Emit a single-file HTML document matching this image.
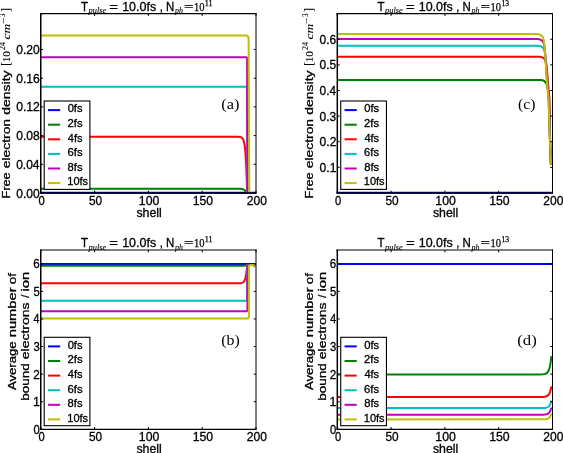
<!DOCTYPE html>
<html><head><meta charset="utf-8"><style>
html,body{margin:0;padding:0;background:#fff;}
body{width:563px;height:453px;overflow:hidden;font-family:"Liberation Sans",sans-serif;}
svg{display:block;will-change:transform;}
</style></head><body>
<svg width="563" height="453" viewBox="0 0 563 453">
<style>text.s{stroke:#000;stroke-width:0.3px;} text.r{stroke:#000;stroke-width:0.25px;} text.t{stroke:#000;stroke-width:0.1px;}</style>
<rect width="563" height="453" fill="#fff"/>
<path d="M40.75,192.75 L255.52,192.75" stroke="#0000ff" stroke-width="2.0" fill="none" stroke-linejoin="round"/>
<path d="M40.75,188.68 L238.1,188.72 L240.1,188.8 L241.6,188.96 L242.8,189.23 L243.8,189.63 L244.7,190.25 L245.4,191 L246,191.92 L246.6,193.2" stroke="#008000" stroke-width="2.0" fill="none" stroke-linejoin="round"/>
<path d="M40.75,136.72 L234,136.73 L238.4,136.79 L239.6,136.9 L240.5,137.08 L241.4,137.43 L242.1,137.93 L242.7,138.64 L243.3,139.76 L243.8,141.19 L244.2,142.79 L244.6,144.98 L245,147.95 L245.6,154.54 L246.2,164.99 L246.7,178.24 L247.1,193.2" stroke="#ff0000" stroke-width="2.0" fill="none" stroke-linejoin="round"/>
<path d="M40.75,86.71 H246 Q247,86.71 247,87.71 L247.3,192.7" stroke="#00bfbf" stroke-width="2.0" fill="none" stroke-linejoin="round"/>
<path d="M40.75,57.29 H246.1 Q247.1,57.29 247.1,58.29 L247.5,192.7" stroke="#bf00bf" stroke-width="2.0" fill="none" stroke-linejoin="round"/>
<path d="M40.75,35.62 H245.6 Q248.6,35.62 248.6,38.62 L249.3,192.7" stroke="#bfbf00" stroke-width="2.0" fill="none" stroke-linejoin="round"/>
<path d="M337.3,192.75 L551.42,192.75" stroke="#0000ff" stroke-width="2.0" fill="none" stroke-linejoin="round"/>
<path d="M337.3,80.02 H541.2 C544.92,80.02 547.63,84.82 548.28,92.02 L548.9,99 L550,140 L550.9,164.5" stroke="#008000" stroke-width="2.0" fill="none" stroke-linejoin="round"/>
<path d="M337.3,56.7 H539.86 C543.58,56.7 546.2,60.3 546.64,65.7 L547.8,80 L549.5,99 L550.15,140 L550.9,164.5" stroke="#ff0000" stroke-width="2.0" fill="none" stroke-linejoin="round"/>
<path d="M337.3,45.71 H537.9 C541.93,45.71 544.68,48.71 545.09,53.21 L545.52,57.8 L547,80 L548.7,99 L549.95,140 L550.9,164.5" stroke="#00bfbf" stroke-width="2.0" fill="none" stroke-linejoin="round"/>
<path d="M337.3,38.92 H537.29 C541.32,38.92 544.03,41.72 544.42,45.92 L545.52,57.8 L547,80 L548.7,99 L549.95,140 L550.9,164.5" stroke="#bf00bf" stroke-width="2.0" fill="none" stroke-linejoin="round"/>
<path d="M337.3,34.1 H536.62 C540.83,34.1 543.61,36.9 543.97,41.1 L545.4,57.8 L546.8,80 L548.5,99 L549.9,140 L550.9,164.5" stroke="#bfbf00" stroke-width="2.0" fill="none" stroke-linejoin="round"/>
<path d="M40.75,263.99 L255.7,263.99" stroke="#0000ff" stroke-width="2.0" fill="none" stroke-linejoin="round"/>
<path d="M40.75,265.65 L242.1,265.64 L245.8,265.52 L246.8,265.3 L247.5,264.96 L253.6,264.96 L254.9,266.57" stroke="#008000" stroke-width="2.0" fill="none" stroke-linejoin="round"/>
<path d="M40.75,283.3 L233.1,283.3 L237.8,283.28 L240,283.19 L241.8,282.91 L242.5,282.66 L243.1,282.32 L243.6,281.9 L244.1,281.3 L244.5,280.64 L244.9,279.75 L245.6,277.45 L246.2,274.32 L246.7,270.47 L247.2,264.96 L253.6,264.96 L254.9,266.57" stroke="#ff0000" stroke-width="2.0" fill="none" stroke-linejoin="round"/>
<path d="M40.75,300.68 H246 Q247,300.68 247,299.68 V266.76 Q247,264.96 248.8,264.96 H253.6 L254.92,266.6" stroke="#00bfbf" stroke-width="2.0" fill="none" stroke-linejoin="round"/>
<path d="M40.75,311.16 H246.4 Q247.4,311.16 247.4,310.16 V266.76 Q247.4,264.96 249.2,264.96 H253.6 L254.92,266.6" stroke="#bf00bf" stroke-width="2.0" fill="none" stroke-linejoin="round"/>
<path d="M40.75,318.61 H246.7 Q248.9,318.61 248.9,316.41 V266.76 Q248.9,264.96 250.7,264.96 H253.6 L254.92,266.6" stroke="#bfbf00" stroke-width="2.0" fill="none" stroke-linejoin="round"/>
<path d="M337.3,263.99 L552.2,263.99" stroke="#0000ff" stroke-width="2.0" fill="none" stroke-linejoin="round"/>
<path d="M337.3,374.5 L534.2,374.49 L540,374.46 L542.8,374.34 L544.8,374.03 L545.6,373.77 L546.4,373.36 L547,372.91 L547.6,372.29 L548.2,371.41 L548.6,370.64 L549.4,368.49 L550.2,365.12 L550.8,361.42 L551.4,356.24" stroke="#008000" stroke-width="2.0" fill="none" stroke-linejoin="round"/>
<path d="M337.3,397.01 L534.2,397 L542.8,396.92 L544.8,396.73 L546.4,396.34 L547.6,395.71 L548.6,394.76 L549.4,393.5 L550.2,391.53 L550.8,389.37 L551.4,386.35" stroke="#ff0000" stroke-width="2.0" fill="none" stroke-linejoin="round"/>
<path d="M337.3,408.09 L534.2,408.09 L542.8,408.03 L544.8,407.9 L546.4,407.63 L547.6,407.19 L548.6,406.51 L549.4,405.63 L550.2,404.24 L550.8,402.72 L551.4,400.59" stroke="#00bfbf" stroke-width="2.0" fill="none" stroke-linejoin="round"/>
<path d="M337.3,414.69 L534.2,414.69 L542.8,414.63 L544.8,414.51 L546.4,414.25 L547.6,413.83 L548.6,413.19 L549.4,412.35 L550.2,411.04 L550.8,409.6 L551.4,407.58" stroke="#bf00bf" stroke-width="2.0" fill="none" stroke-linejoin="round"/>
<path d="M337.3,419.4 L542.8,419.36 L544.8,419.26 L546.4,419.05 L547.6,418.71 L548.6,418.2 L549.4,417.52 L550.2,416.47 L550.8,415.3 L551.4,413.68" stroke="#bfbf00" stroke-width="2.0" fill="none" stroke-linejoin="round"/>
<path d="M40,13.6 H256.5" stroke="#000" stroke-width="1.1"/>
<path d="M40,193 H256.5" stroke="#000" stroke-width="1.3"/>
<path d="M40.75,13.1 V193.6" stroke="#000" stroke-width="1.5"/>
<path d="M256,13.1 V193.6" stroke="#000" stroke-width="1.0"/>
<path d="M336.55,13.6 H553" stroke="#000" stroke-width="1.1"/>
<path d="M336.55,193 H553" stroke="#000" stroke-width="1.3"/>
<path d="M337.3,13.1 V193.6" stroke="#000" stroke-width="1.5"/>
<path d="M552.5,13.1 V193.6" stroke="#000" stroke-width="1.0"/>
<path d="M40,250 H256.5" stroke="#000" stroke-width="1.1"/>
<path d="M40,429.3 H256.5" stroke="#000" stroke-width="1.3"/>
<path d="M40.75,249.5 V429.9" stroke="#000" stroke-width="1.5"/>
<path d="M256,249.5 V429.9" stroke="#000" stroke-width="1.0"/>
<path d="M336.55,250 H553" stroke="#000" stroke-width="1.1"/>
<path d="M336.55,429.3 H553" stroke="#000" stroke-width="1.3"/>
<path d="M337.3,249.5 V429.9" stroke="#000" stroke-width="1.5"/>
<path d="M552.5,249.5 V429.9" stroke="#000" stroke-width="1.0"/>
<path d="M40.75,193 v-2.3 M40.75,13.6 v2.3 M94.56,193 v-2.3 M94.56,13.6 v2.3 M148.38,193 v-2.3 M148.38,13.6 v2.3 M202.19,193 v-2.3 M202.19,13.6 v2.3 M256,193 v-2.3 M256,13.6 v2.3 M40.75,193 h2.4 M256,193 h-2.3 M40.75,164.3 h2.4 M256,164.3 h-2.3 M40.75,135.59 h2.4 M256,135.59 h-2.3 M40.75,106.89 h2.4 M256,106.89 h-2.3 M40.75,78.18 h2.4 M256,78.18 h-2.3 M40.75,49.48 h2.4 M256,49.48 h-2.3" stroke="#000" stroke-width="1" fill="none"/>
<path d="M337.3,193 v-2.3 M337.3,13.6 v2.3 M391.1,193 v-2.3 M391.1,13.6 v2.3 M444.9,193 v-2.3 M444.9,13.6 v2.3 M498.7,193 v-2.3 M498.7,13.6 v2.3 M552.5,193 v-2.3 M552.5,13.6 v2.3 M337.3,167.37 h2.4 M552.5,167.37 h-2.3 M337.3,141.74 h2.4 M552.5,141.74 h-2.3 M337.3,116.11 h2.4 M552.5,116.11 h-2.3 M337.3,90.49 h2.4 M552.5,90.49 h-2.3 M337.3,64.86 h2.4 M552.5,64.86 h-2.3 M337.3,39.23 h2.4 M552.5,39.23 h-2.3" stroke="#000" stroke-width="1" fill="none"/>
<path d="M40.75,429.3 v-2.3 M40.75,250 v2.3 M94.56,429.3 v-2.3 M94.56,250 v2.3 M148.38,429.3 v-2.3 M148.38,250 v2.3 M202.19,429.3 v-2.3 M202.19,250 v2.3 M256,429.3 v-2.3 M256,250 v2.3 M40.75,429.3 h2.4 M256,429.3 h-2.3 M40.75,401.72 h2.4 M256,401.72 h-2.3 M40.75,374.13 h2.4 M256,374.13 h-2.3 M40.75,346.55 h2.4 M256,346.55 h-2.3 M40.75,318.96 h2.4 M256,318.96 h-2.3 M40.75,291.38 h2.4 M256,291.38 h-2.3 M40.75,263.79 h2.4 M256,263.79 h-2.3" stroke="#000" stroke-width="1" fill="none"/>
<path d="M337.3,429.3 v-2.3 M337.3,250 v2.3 M391.1,429.3 v-2.3 M391.1,250 v2.3 M444.9,429.3 v-2.3 M444.9,250 v2.3 M498.7,429.3 v-2.3 M498.7,250 v2.3 M552.5,429.3 v-2.3 M552.5,250 v2.3 M337.3,429.3 h2.4 M552.5,429.3 h-2.3 M337.3,401.72 h2.4 M552.5,401.72 h-2.3 M337.3,374.13 h2.4 M552.5,374.13 h-2.3 M337.3,346.55 h2.4 M552.5,346.55 h-2.3 M337.3,318.96 h2.4 M552.5,318.96 h-2.3 M337.3,291.38 h2.4 M552.5,291.38 h-2.3 M337.3,263.79 h2.4 M552.5,263.79 h-2.3" stroke="#000" stroke-width="1" fill="none"/>
<rect x="44.2" y="101" width="45.7" height="88.4" fill="#fff" stroke="#000" stroke-width="1.1"/>
<path d="M48,110.1 h12.2" stroke="#0000ff" stroke-width="2.0"/>
<text class="s" x="67.65" y="112.4" font-size="10.9" font-family="Liberation Sans" text-anchor="start" textLength="14.93" lengthAdjust="spacingAndGlyphs" >0fs</text>
<path d="M48,124.7 h12.2" stroke="#008000" stroke-width="2.0"/>
<text class="s" x="67.54" y="127" font-size="10.9" font-family="Liberation Sans" text-anchor="start" textLength="15.05" lengthAdjust="spacingAndGlyphs" >2fs</text>
<path d="M48,139.3 h12.2" stroke="#ff0000" stroke-width="2.0"/>
<text class="s" x="67.85" y="141.6" font-size="10.9" font-family="Liberation Sans" text-anchor="start" textLength="14.72" lengthAdjust="spacingAndGlyphs" >4fs</text>
<path d="M48,153.9 h12.2" stroke="#00bfbf" stroke-width="2.0"/>
<text class="s" x="67.54" y="156.2" font-size="10.9" font-family="Liberation Sans" text-anchor="start" textLength="15.05" lengthAdjust="spacingAndGlyphs" >6fs</text>
<path d="M48,168.5 h12.2" stroke="#bf00bf" stroke-width="2.0"/>
<text class="s" x="67.62" y="170.8" font-size="10.9" font-family="Liberation Sans" text-anchor="start" textLength="14.96" lengthAdjust="spacingAndGlyphs" >8fs</text>
<path d="M48,183.1 h12.2" stroke="#bfbf00" stroke-width="2.0"/>
<text class="s" x="67.27" y="185.4" font-size="10.9" font-family="Liberation Sans" text-anchor="start" textLength="20.81" lengthAdjust="spacingAndGlyphs" >10fs</text>
<rect x="340.75" y="101" width="45.7" height="88.4" fill="#fff" stroke="#000" stroke-width="1.1"/>
<path d="M344.55,110.1 h12.2" stroke="#0000ff" stroke-width="2.0"/>
<text class="s" x="364.2" y="112.4" font-size="10.9" font-family="Liberation Sans" text-anchor="start" textLength="14.93" lengthAdjust="spacingAndGlyphs" >0fs</text>
<path d="M344.55,124.7 h12.2" stroke="#008000" stroke-width="2.0"/>
<text class="s" x="364.09" y="127" font-size="10.9" font-family="Liberation Sans" text-anchor="start" textLength="15.05" lengthAdjust="spacingAndGlyphs" >2fs</text>
<path d="M344.55,139.3 h12.2" stroke="#ff0000" stroke-width="2.0"/>
<text class="s" x="364.4" y="141.6" font-size="10.9" font-family="Liberation Sans" text-anchor="start" textLength="14.72" lengthAdjust="spacingAndGlyphs" >4fs</text>
<path d="M344.55,153.9 h12.2" stroke="#00bfbf" stroke-width="2.0"/>
<text class="s" x="364.09" y="156.2" font-size="10.9" font-family="Liberation Sans" text-anchor="start" textLength="15.05" lengthAdjust="spacingAndGlyphs" >6fs</text>
<path d="M344.55,168.5 h12.2" stroke="#bf00bf" stroke-width="2.0"/>
<text class="s" x="364.17" y="170.8" font-size="10.9" font-family="Liberation Sans" text-anchor="start" textLength="14.96" lengthAdjust="spacingAndGlyphs" >8fs</text>
<path d="M344.55,183.1 h12.2" stroke="#bfbf00" stroke-width="2.0"/>
<text class="s" x="363.82" y="185.4" font-size="10.9" font-family="Liberation Sans" text-anchor="start" textLength="20.81" lengthAdjust="spacingAndGlyphs" >10fs</text>
<rect x="44.2" y="337.3" width="45.7" height="88.4" fill="#fff" stroke="#000" stroke-width="1.1"/>
<path d="M48,346.4 h12.2" stroke="#0000ff" stroke-width="2.0"/>
<text class="s" x="67.65" y="348.7" font-size="10.9" font-family="Liberation Sans" text-anchor="start" textLength="14.93" lengthAdjust="spacingAndGlyphs" >0fs</text>
<path d="M48,361 h12.2" stroke="#008000" stroke-width="2.0"/>
<text class="s" x="67.54" y="363.3" font-size="10.9" font-family="Liberation Sans" text-anchor="start" textLength="15.05" lengthAdjust="spacingAndGlyphs" >2fs</text>
<path d="M48,375.6 h12.2" stroke="#ff0000" stroke-width="2.0"/>
<text class="s" x="67.85" y="377.9" font-size="10.9" font-family="Liberation Sans" text-anchor="start" textLength="14.72" lengthAdjust="spacingAndGlyphs" >4fs</text>
<path d="M48,390.2 h12.2" stroke="#00bfbf" stroke-width="2.0"/>
<text class="s" x="67.54" y="392.5" font-size="10.9" font-family="Liberation Sans" text-anchor="start" textLength="15.05" lengthAdjust="spacingAndGlyphs" >6fs</text>
<path d="M48,404.8 h12.2" stroke="#bf00bf" stroke-width="2.0"/>
<text class="s" x="67.62" y="407.1" font-size="10.9" font-family="Liberation Sans" text-anchor="start" textLength="14.96" lengthAdjust="spacingAndGlyphs" >8fs</text>
<path d="M48,419.4 h12.2" stroke="#bfbf00" stroke-width="2.0"/>
<text class="s" x="67.27" y="421.7" font-size="10.9" font-family="Liberation Sans" text-anchor="start" textLength="20.81" lengthAdjust="spacingAndGlyphs" >10fs</text>
<rect x="340.75" y="337.3" width="45.7" height="88.4" fill="#fff" stroke="#000" stroke-width="1.1"/>
<path d="M344.55,346.4 h12.2" stroke="#0000ff" stroke-width="2.0"/>
<text class="s" x="364.2" y="348.7" font-size="10.9" font-family="Liberation Sans" text-anchor="start" textLength="14.93" lengthAdjust="spacingAndGlyphs" >0fs</text>
<path d="M344.55,361 h12.2" stroke="#008000" stroke-width="2.0"/>
<text class="s" x="364.09" y="363.3" font-size="10.9" font-family="Liberation Sans" text-anchor="start" textLength="15.05" lengthAdjust="spacingAndGlyphs" >2fs</text>
<path d="M344.55,375.6 h12.2" stroke="#ff0000" stroke-width="2.0"/>
<text class="s" x="364.4" y="377.9" font-size="10.9" font-family="Liberation Sans" text-anchor="start" textLength="14.72" lengthAdjust="spacingAndGlyphs" >4fs</text>
<path d="M344.55,390.2 h12.2" stroke="#00bfbf" stroke-width="2.0"/>
<text class="s" x="364.09" y="392.5" font-size="10.9" font-family="Liberation Sans" text-anchor="start" textLength="15.05" lengthAdjust="spacingAndGlyphs" >6fs</text>
<path d="M344.55,404.8 h12.2" stroke="#bf00bf" stroke-width="2.0"/>
<text class="s" x="364.17" y="407.1" font-size="10.9" font-family="Liberation Sans" text-anchor="start" textLength="14.96" lengthAdjust="spacingAndGlyphs" >8fs</text>
<path d="M344.55,419.4 h12.2" stroke="#bfbf00" stroke-width="2.0"/>
<text class="s" x="363.82" y="421.7" font-size="10.9" font-family="Liberation Sans" text-anchor="start" textLength="20.81" lengthAdjust="spacingAndGlyphs" >10fs</text>
<text class="s" x="38.57" y="204.65" font-size="12.1" font-family="Liberation Sans" text-anchor="start" textLength="6.24" lengthAdjust="spacingAndGlyphs" >0</text>
<text class="s" x="88.93" y="204.65" font-size="12.1" font-family="Liberation Sans" text-anchor="start" textLength="13.17" lengthAdjust="spacingAndGlyphs" >50</text>
<text class="s" x="138.86" y="204.65" font-size="12.1" font-family="Liberation Sans" text-anchor="start" textLength="20.49" lengthAdjust="spacingAndGlyphs" >100</text>
<text class="s" x="192.67" y="204.65" font-size="12.1" font-family="Liberation Sans" text-anchor="start" textLength="20.49" lengthAdjust="spacingAndGlyphs" >150</text>
<text class="s" x="246.8" y="204.65" font-size="12.1" font-family="Liberation Sans" text-anchor="start" textLength="20.16" lengthAdjust="spacingAndGlyphs" >200</text>
<text class="s" x="136.44" y="216.5" font-size="12.4" font-family="Liberation Sans" text-anchor="start" textLength="25.36" lengthAdjust="spacingAndGlyphs" >shell</text>
<text class="s" x="335.12" y="204.65" font-size="12.1" font-family="Liberation Sans" text-anchor="start" textLength="6.24" lengthAdjust="spacingAndGlyphs" >0</text>
<text class="s" x="385.46" y="204.65" font-size="12.1" font-family="Liberation Sans" text-anchor="start" textLength="13.17" lengthAdjust="spacingAndGlyphs" >50</text>
<text class="s" x="435.38" y="204.65" font-size="12.1" font-family="Liberation Sans" text-anchor="start" textLength="20.49" lengthAdjust="spacingAndGlyphs" >100</text>
<text class="s" x="489.18" y="204.65" font-size="12.1" font-family="Liberation Sans" text-anchor="start" textLength="20.49" lengthAdjust="spacingAndGlyphs" >150</text>
<text class="s" x="543.3" y="204.65" font-size="12.1" font-family="Liberation Sans" text-anchor="start" textLength="20.16" lengthAdjust="spacingAndGlyphs" >200</text>
<text class="s" x="432.96" y="216.5" font-size="12.4" font-family="Liberation Sans" text-anchor="start" textLength="25.36" lengthAdjust="spacingAndGlyphs" >shell</text>
<text class="s" x="38.57" y="440.95" font-size="12.1" font-family="Liberation Sans" text-anchor="start" textLength="6.24" lengthAdjust="spacingAndGlyphs" >0</text>
<text class="s" x="88.93" y="440.95" font-size="12.1" font-family="Liberation Sans" text-anchor="start" textLength="13.17" lengthAdjust="spacingAndGlyphs" >50</text>
<text class="s" x="138.86" y="440.95" font-size="12.1" font-family="Liberation Sans" text-anchor="start" textLength="20.49" lengthAdjust="spacingAndGlyphs" >100</text>
<text class="s" x="192.67" y="440.95" font-size="12.1" font-family="Liberation Sans" text-anchor="start" textLength="20.49" lengthAdjust="spacingAndGlyphs" >150</text>
<text class="s" x="246.8" y="440.95" font-size="12.1" font-family="Liberation Sans" text-anchor="start" textLength="20.16" lengthAdjust="spacingAndGlyphs" >200</text>
<text class="s" x="136.44" y="452.8" font-size="12.4" font-family="Liberation Sans" text-anchor="start" textLength="25.36" lengthAdjust="spacingAndGlyphs" >shell</text>
<text class="s" x="335.12" y="440.95" font-size="12.1" font-family="Liberation Sans" text-anchor="start" textLength="6.24" lengthAdjust="spacingAndGlyphs" >0</text>
<text class="s" x="385.46" y="440.95" font-size="12.1" font-family="Liberation Sans" text-anchor="start" textLength="13.17" lengthAdjust="spacingAndGlyphs" >50</text>
<text class="s" x="435.38" y="440.95" font-size="12.1" font-family="Liberation Sans" text-anchor="start" textLength="20.49" lengthAdjust="spacingAndGlyphs" >100</text>
<text class="s" x="489.18" y="440.95" font-size="12.1" font-family="Liberation Sans" text-anchor="start" textLength="20.49" lengthAdjust="spacingAndGlyphs" >150</text>
<text class="s" x="543.3" y="440.95" font-size="12.1" font-family="Liberation Sans" text-anchor="start" textLength="20.16" lengthAdjust="spacingAndGlyphs" >200</text>
<text class="s" x="432.96" y="452.8" font-size="12.4" font-family="Liberation Sans" text-anchor="start" textLength="25.36" lengthAdjust="spacingAndGlyphs" >shell</text>
<text class="s" x="16.19" y="197.5" font-size="12.1" font-family="Liberation Sans" text-anchor="start" textLength="23.48" lengthAdjust="spacingAndGlyphs" >0.00</text>
<text class="s" x="16.19" y="168.8" font-size="12.1" font-family="Liberation Sans" text-anchor="start" textLength="23.36" lengthAdjust="spacingAndGlyphs" >0.04</text>
<text class="s" x="16.19" y="140.09" font-size="12.1" font-family="Liberation Sans" text-anchor="start" textLength="23.54" lengthAdjust="spacingAndGlyphs" >0.08</text>
<text class="s" x="16.19" y="111.39" font-size="12.1" font-family="Liberation Sans" text-anchor="start" textLength="23.64" lengthAdjust="spacingAndGlyphs" >0.12</text>
<text class="s" x="16.19" y="82.68" font-size="12.1" font-family="Liberation Sans" text-anchor="start" textLength="23.54" lengthAdjust="spacingAndGlyphs" >0.16</text>
<text class="s" x="16.19" y="53.98" font-size="12.1" font-family="Liberation Sans" text-anchor="start" textLength="23.48" lengthAdjust="spacingAndGlyphs" >0.20</text>
<text class="s" x="319.61" y="171.87" font-size="12.1" font-family="Liberation Sans" text-anchor="start" textLength="16.71" lengthAdjust="spacingAndGlyphs" >0.1</text>
<text class="s" x="319.61" y="146.24" font-size="12.1" font-family="Liberation Sans" text-anchor="start" textLength="16.75" lengthAdjust="spacingAndGlyphs" >0.2</text>
<text class="s" x="319.61" y="120.61" font-size="12.1" font-family="Liberation Sans" text-anchor="start" textLength="16.65" lengthAdjust="spacingAndGlyphs" >0.3</text>
<text class="s" x="319.62" y="94.99" font-size="12.1" font-family="Liberation Sans" text-anchor="start" textLength="16.46" lengthAdjust="spacingAndGlyphs" >0.4</text>
<text class="s" x="319.61" y="69.36" font-size="12.1" font-family="Liberation Sans" text-anchor="start" textLength="16.62" lengthAdjust="spacingAndGlyphs" >0.5</text>
<text class="s" x="319.61" y="43.73" font-size="12.1" font-family="Liberation Sans" text-anchor="start" textLength="16.65" lengthAdjust="spacingAndGlyphs" >0.6</text>
<text class="s" x="33.39" y="433.8" font-size="12.1" font-family="Liberation Sans" text-anchor="start" textLength="6.24" lengthAdjust="spacingAndGlyphs" >0</text>
<text class="s" x="32.91" y="406.22" font-size="12.1" font-family="Liberation Sans" text-anchor="start" textLength="6.89" lengthAdjust="spacingAndGlyphs" >1</text>
<text class="s" x="33.25" y="378.63" font-size="12.1" font-family="Liberation Sans" text-anchor="start" textLength="6.55" lengthAdjust="spacingAndGlyphs" >2</text>
<text class="s" x="33.42" y="351.05" font-size="12.1" font-family="Liberation Sans" text-anchor="start" textLength="6.27" lengthAdjust="spacingAndGlyphs" >3</text>
<text class="s" x="33.6" y="323.46" font-size="12.1" font-family="Liberation Sans" text-anchor="start" textLength="5.9" lengthAdjust="spacingAndGlyphs" >4</text>
<text class="s" x="33.39" y="295.88" font-size="12.1" font-family="Liberation Sans" text-anchor="start" textLength="6.27" lengthAdjust="spacingAndGlyphs" >5</text>
<text class="s" x="33.26" y="268.29" font-size="12.1" font-family="Liberation Sans" text-anchor="start" textLength="6.44" lengthAdjust="spacingAndGlyphs" >6</text>
<text class="s" x="329.94" y="433.8" font-size="12.1" font-family="Liberation Sans" text-anchor="start" textLength="6.24" lengthAdjust="spacingAndGlyphs" >0</text>
<text class="s" x="329.46" y="406.22" font-size="12.1" font-family="Liberation Sans" text-anchor="start" textLength="6.89" lengthAdjust="spacingAndGlyphs" >1</text>
<text class="s" x="329.8" y="378.63" font-size="12.1" font-family="Liberation Sans" text-anchor="start" textLength="6.55" lengthAdjust="spacingAndGlyphs" >2</text>
<text class="s" x="329.97" y="351.05" font-size="12.1" font-family="Liberation Sans" text-anchor="start" textLength="6.27" lengthAdjust="spacingAndGlyphs" >3</text>
<text class="s" x="330.15" y="323.46" font-size="12.1" font-family="Liberation Sans" text-anchor="start" textLength="5.9" lengthAdjust="spacingAndGlyphs" >4</text>
<text class="s" x="329.94" y="295.88" font-size="12.1" font-family="Liberation Sans" text-anchor="start" textLength="6.27" lengthAdjust="spacingAndGlyphs" >5</text>
<text class="s" x="329.81" y="268.29" font-size="12.1" font-family="Liberation Sans" text-anchor="start" textLength="6.44" lengthAdjust="spacingAndGlyphs" >6</text>
<text class="s" x="80.94" y="10.66" font-size="12.1" font-family="Liberation Sans" text-anchor="start" textLength="7.03" lengthAdjust="spacingAndGlyphs" >T</text>
<text class="t" x="88.58" y="13.3" font-size="8.2" font-family="Liberation Serif" text-anchor="start" textLength="17.59" lengthAdjust="spacingAndGlyphs"  font-style="italic">pulse</text>
<text class="s" x="109.39" y="10.66" font-size="12.1" font-family="Liberation Sans" text-anchor="start" textLength="8.74" lengthAdjust="spacingAndGlyphs" >=</text>
<text class="s" x="122.17" y="10.66" font-size="12.1" font-family="Liberation Sans" text-anchor="start" textLength="33.96" lengthAdjust="spacingAndGlyphs" >10.0fs</text>
<text class="s" x="159.68" y="10.86" font-size="12.1" font-family="Liberation Sans" text-anchor="start" textLength="3.13" lengthAdjust="spacingAndGlyphs" >,</text>
<text class="s" x="166.05" y="10.66" font-size="12.1" font-family="Liberation Sans" text-anchor="start" textLength="8.29" lengthAdjust="spacingAndGlyphs" >N</text>
<text class="t" x="174.96" y="13.3" font-size="8.2" font-family="Liberation Serif" text-anchor="start" textLength="7.98" lengthAdjust="spacingAndGlyphs"  font-style="italic">ph</text>
<text class="r" x="184.06" y="10.66" font-size="12.1" font-family="Liberation Serif" text-anchor="start" textLength="9.46" lengthAdjust="spacingAndGlyphs" >=</text>
<text class="r" x="193.88" y="10.66" font-size="12.3" font-family="Liberation Serif" text-anchor="start" textLength="10.51" lengthAdjust="spacingAndGlyphs" >10</text>
<text class="r" x="204.79" y="5.5" font-size="8.3" font-family="Liberation Serif" text-anchor="start" textLength="7.8" lengthAdjust="spacingAndGlyphs" >11</text>
<text class="s" x="377.49" y="10.66" font-size="12.1" font-family="Liberation Sans" text-anchor="start" textLength="7.03" lengthAdjust="spacingAndGlyphs" >T</text>
<text class="t" x="385.13" y="13.3" font-size="8.2" font-family="Liberation Serif" text-anchor="start" textLength="17.59" lengthAdjust="spacingAndGlyphs"  font-style="italic">pulse</text>
<text class="s" x="405.94" y="10.66" font-size="12.1" font-family="Liberation Sans" text-anchor="start" textLength="8.74" lengthAdjust="spacingAndGlyphs" >=</text>
<text class="s" x="418.72" y="10.66" font-size="12.1" font-family="Liberation Sans" text-anchor="start" textLength="33.96" lengthAdjust="spacingAndGlyphs" >10.0fs</text>
<text class="s" x="456.23" y="10.86" font-size="12.1" font-family="Liberation Sans" text-anchor="start" textLength="3.13" lengthAdjust="spacingAndGlyphs" >,</text>
<text class="s" x="462.6" y="10.66" font-size="12.1" font-family="Liberation Sans" text-anchor="start" textLength="8.29" lengthAdjust="spacingAndGlyphs" >N</text>
<text class="t" x="471.51" y="13.3" font-size="8.2" font-family="Liberation Serif" text-anchor="start" textLength="7.98" lengthAdjust="spacingAndGlyphs"  font-style="italic">ph</text>
<text class="r" x="480.61" y="10.66" font-size="12.1" font-family="Liberation Serif" text-anchor="start" textLength="9.46" lengthAdjust="spacingAndGlyphs" >=</text>
<text class="r" x="490.43" y="10.66" font-size="12.3" font-family="Liberation Serif" text-anchor="start" textLength="10.51" lengthAdjust="spacingAndGlyphs" >10</text>
<text class="r" x="501.39" y="5.5" font-size="8.3" font-family="Liberation Serif" text-anchor="start" textLength="7.56" lengthAdjust="spacingAndGlyphs" >13</text>
<text class="s" x="80.94" y="247.06" font-size="12.1" font-family="Liberation Sans" text-anchor="start" textLength="7.03" lengthAdjust="spacingAndGlyphs" >T</text>
<text class="t" x="88.58" y="249.7" font-size="8.2" font-family="Liberation Serif" text-anchor="start" textLength="17.59" lengthAdjust="spacingAndGlyphs"  font-style="italic">pulse</text>
<text class="s" x="109.39" y="247.06" font-size="12.1" font-family="Liberation Sans" text-anchor="start" textLength="8.74" lengthAdjust="spacingAndGlyphs" >=</text>
<text class="s" x="122.17" y="247.06" font-size="12.1" font-family="Liberation Sans" text-anchor="start" textLength="33.96" lengthAdjust="spacingAndGlyphs" >10.0fs</text>
<text class="s" x="159.68" y="247.26" font-size="12.1" font-family="Liberation Sans" text-anchor="start" textLength="3.13" lengthAdjust="spacingAndGlyphs" >,</text>
<text class="s" x="166.05" y="247.06" font-size="12.1" font-family="Liberation Sans" text-anchor="start" textLength="8.29" lengthAdjust="spacingAndGlyphs" >N</text>
<text class="t" x="174.96" y="249.7" font-size="8.2" font-family="Liberation Serif" text-anchor="start" textLength="7.98" lengthAdjust="spacingAndGlyphs"  font-style="italic">ph</text>
<text class="r" x="184.06" y="247.06" font-size="12.1" font-family="Liberation Serif" text-anchor="start" textLength="9.46" lengthAdjust="spacingAndGlyphs" >=</text>
<text class="r" x="193.88" y="247.06" font-size="12.3" font-family="Liberation Serif" text-anchor="start" textLength="10.51" lengthAdjust="spacingAndGlyphs" >10</text>
<text class="r" x="204.79" y="241.9" font-size="8.3" font-family="Liberation Serif" text-anchor="start" textLength="7.8" lengthAdjust="spacingAndGlyphs" >11</text>
<text class="s" x="377.49" y="247.06" font-size="12.1" font-family="Liberation Sans" text-anchor="start" textLength="7.03" lengthAdjust="spacingAndGlyphs" >T</text>
<text class="t" x="385.13" y="249.7" font-size="8.2" font-family="Liberation Serif" text-anchor="start" textLength="17.59" lengthAdjust="spacingAndGlyphs"  font-style="italic">pulse</text>
<text class="s" x="405.94" y="247.06" font-size="12.1" font-family="Liberation Sans" text-anchor="start" textLength="8.74" lengthAdjust="spacingAndGlyphs" >=</text>
<text class="s" x="418.72" y="247.06" font-size="12.1" font-family="Liberation Sans" text-anchor="start" textLength="33.96" lengthAdjust="spacingAndGlyphs" >10.0fs</text>
<text class="s" x="456.23" y="247.26" font-size="12.1" font-family="Liberation Sans" text-anchor="start" textLength="3.13" lengthAdjust="spacingAndGlyphs" >,</text>
<text class="s" x="462.6" y="247.06" font-size="12.1" font-family="Liberation Sans" text-anchor="start" textLength="8.29" lengthAdjust="spacingAndGlyphs" >N</text>
<text class="t" x="471.51" y="249.7" font-size="8.2" font-family="Liberation Serif" text-anchor="start" textLength="7.98" lengthAdjust="spacingAndGlyphs"  font-style="italic">ph</text>
<text class="r" x="480.61" y="247.06" font-size="12.1" font-family="Liberation Serif" text-anchor="start" textLength="9.46" lengthAdjust="spacingAndGlyphs" >=</text>
<text class="r" x="490.43" y="247.06" font-size="12.3" font-family="Liberation Serif" text-anchor="start" textLength="10.51" lengthAdjust="spacingAndGlyphs" >10</text>
<text class="r" x="501.39" y="241.9" font-size="8.3" font-family="Liberation Serif" text-anchor="start" textLength="7.56" lengthAdjust="spacingAndGlyphs" >13</text>
<text class="n" x="221.3" y="108.7" font-size="14.8" font-family="Liberation Serif" text-anchor="start" textLength="18.19" lengthAdjust="spacingAndGlyphs" >(a)</text>
<text class="n" x="518.13" y="108.7" font-size="14.8" font-family="Liberation Serif" text-anchor="start" textLength="17.43" lengthAdjust="spacingAndGlyphs" >(c)</text>
<text class="n" x="221.32" y="345.1" font-size="14.8" font-family="Liberation Serif" text-anchor="start" textLength="18.57" lengthAdjust="spacingAndGlyphs" >(b)</text>
<text class="n" x="517.29" y="345.1" font-size="14.8" font-family="Liberation Serif" text-anchor="start" textLength="19.54" lengthAdjust="spacingAndGlyphs" >(d)</text>
<g transform="translate(9.6,0) rotate(-90)">
<text class="s" x="-198.55" y="0" font-size="10.8" font-family="Liberation Sans" text-anchor="start" textLength="26.1" lengthAdjust="spacingAndGlyphs" >Free</text>
<text class="s" x="-168.29" y="0" font-size="10.8" font-family="Liberation Sans" text-anchor="start" textLength="49.36" lengthAdjust="spacingAndGlyphs" >electron</text>
<text class="s" x="-114.69" y="0" font-size="10.8" font-family="Liberation Sans" text-anchor="start" textLength="44.24" lengthAdjust="spacingAndGlyphs" >density</text>
<text class="t" x="-65.79" y="0.3" font-size="11.5" font-family="Liberation Serif" text-anchor="start" >[</text>
<text class="t" x="-62.38" y="0.3" font-size="11" font-family="Liberation Serif" text-anchor="start" textLength="11.2" lengthAdjust="spacingAndGlyphs" >10</text>
<text class="t" x="-49.93" y="-5" font-size="7.6" font-family="Liberation Serif" text-anchor="start" textLength="7.85" lengthAdjust="spacingAndGlyphs" >24</text>
<text class="t" x="-39.5" y="0" font-size="9.6" font-family="Liberation Serif" text-anchor="start" textLength="15.65" lengthAdjust="spacingAndGlyphs"  font-style="italic">cm</text>
<text class="t" x="-24.09" y="-3.61" font-size="8" font-family="Liberation Serif" text-anchor="start" textLength="6.67" lengthAdjust="spacingAndGlyphs" >−</text>
<text class="t" x="-16.7" y="-4.6" font-size="7.6" font-family="Liberation Serif" text-anchor="start" textLength="3.15" lengthAdjust="spacingAndGlyphs" >3</text>
<text class="t" x="-11.85" y="0.3" font-size="11.5" font-family="Liberation Serif" text-anchor="start" >]</text>
</g>
<g transform="translate(312.7,0) rotate(-90)">
<text class="s" x="-198.55" y="0" font-size="10.8" font-family="Liberation Sans" text-anchor="start" textLength="26.1" lengthAdjust="spacingAndGlyphs" >Free</text>
<text class="s" x="-168.29" y="0" font-size="10.8" font-family="Liberation Sans" text-anchor="start" textLength="49.36" lengthAdjust="spacingAndGlyphs" >electron</text>
<text class="s" x="-114.69" y="0" font-size="10.8" font-family="Liberation Sans" text-anchor="start" textLength="44.24" lengthAdjust="spacingAndGlyphs" >density</text>
<text class="t" x="-65.79" y="0.3" font-size="11.5" font-family="Liberation Serif" text-anchor="start" >[</text>
<text class="t" x="-62.38" y="0.3" font-size="11" font-family="Liberation Serif" text-anchor="start" textLength="11.2" lengthAdjust="spacingAndGlyphs" >10</text>
<text class="t" x="-49.93" y="-5" font-size="7.6" font-family="Liberation Serif" text-anchor="start" textLength="7.85" lengthAdjust="spacingAndGlyphs" >24</text>
<text class="t" x="-39.5" y="0" font-size="9.6" font-family="Liberation Serif" text-anchor="start" textLength="15.65" lengthAdjust="spacingAndGlyphs"  font-style="italic">cm</text>
<text class="t" x="-24.09" y="-3.61" font-size="8" font-family="Liberation Serif" text-anchor="start" textLength="6.67" lengthAdjust="spacingAndGlyphs" >−</text>
<text class="t" x="-16.7" y="-4.6" font-size="7.6" font-family="Liberation Serif" text-anchor="start" textLength="3.15" lengthAdjust="spacingAndGlyphs" >3</text>
<text class="t" x="-11.85" y="0.3" font-size="11.5" font-family="Liberation Serif" text-anchor="start" >]</text>
</g>
<g transform="translate(16.2,0) rotate(-90)">
<text class="s" x="-390.13" y="0" font-size="10.9" font-family="Liberation Sans" text-anchor="start" textLength="48.81" lengthAdjust="spacingAndGlyphs" >Average</text>
<text class="s" x="-337.29" y="0" font-size="10.9" font-family="Liberation Sans" text-anchor="start" textLength="49.82" lengthAdjust="spacingAndGlyphs" >number</text>
<text class="s" x="-284.17" y="0" font-size="10.9" font-family="Liberation Sans" text-anchor="start" textLength="11.16" lengthAdjust="spacingAndGlyphs" >of</text>
</g>
<g transform="translate(28.9,0) rotate(-90)">
<text class="s" x="-400.88" y="0" font-size="10.9" font-family="Liberation Sans" text-anchor="start" textLength="37.64" lengthAdjust="spacingAndGlyphs" >bound</text>
<text class="s" x="-359.19" y="0" font-size="10.9" font-family="Liberation Sans" text-anchor="start" textLength="56.69" lengthAdjust="spacingAndGlyphs" >electrons</text>
<text class="s" x="-297.76" y="0" font-size="10.9" font-family="Liberation Sans" text-anchor="start" >/</text>
<text class="s" x="-291.61" y="0" font-size="10.9" font-family="Liberation Sans" text-anchor="start" textLength="19.98" lengthAdjust="spacingAndGlyphs" >ion</text>
</g>
<g transform="translate(312.5,0) rotate(-90)">
<text class="s" x="-390.13" y="0" font-size="10.9" font-family="Liberation Sans" text-anchor="start" textLength="48.81" lengthAdjust="spacingAndGlyphs" >Average</text>
<text class="s" x="-337.29" y="0" font-size="10.9" font-family="Liberation Sans" text-anchor="start" textLength="49.82" lengthAdjust="spacingAndGlyphs" >number</text>
<text class="s" x="-284.17" y="0" font-size="10.9" font-family="Liberation Sans" text-anchor="start" textLength="11.16" lengthAdjust="spacingAndGlyphs" >of</text>
</g>
<g transform="translate(325.6,0) rotate(-90)">
<text class="s" x="-400.88" y="0" font-size="10.9" font-family="Liberation Sans" text-anchor="start" textLength="37.64" lengthAdjust="spacingAndGlyphs" >bound</text>
<text class="s" x="-359.19" y="0" font-size="10.9" font-family="Liberation Sans" text-anchor="start" textLength="56.69" lengthAdjust="spacingAndGlyphs" >electrons</text>
<text class="s" x="-297.76" y="0" font-size="10.9" font-family="Liberation Sans" text-anchor="start" >/</text>
<text class="s" x="-291.61" y="0" font-size="10.9" font-family="Liberation Sans" text-anchor="start" textLength="19.98" lengthAdjust="spacingAndGlyphs" >ion</text>
</g>
</svg>
</body></html>
